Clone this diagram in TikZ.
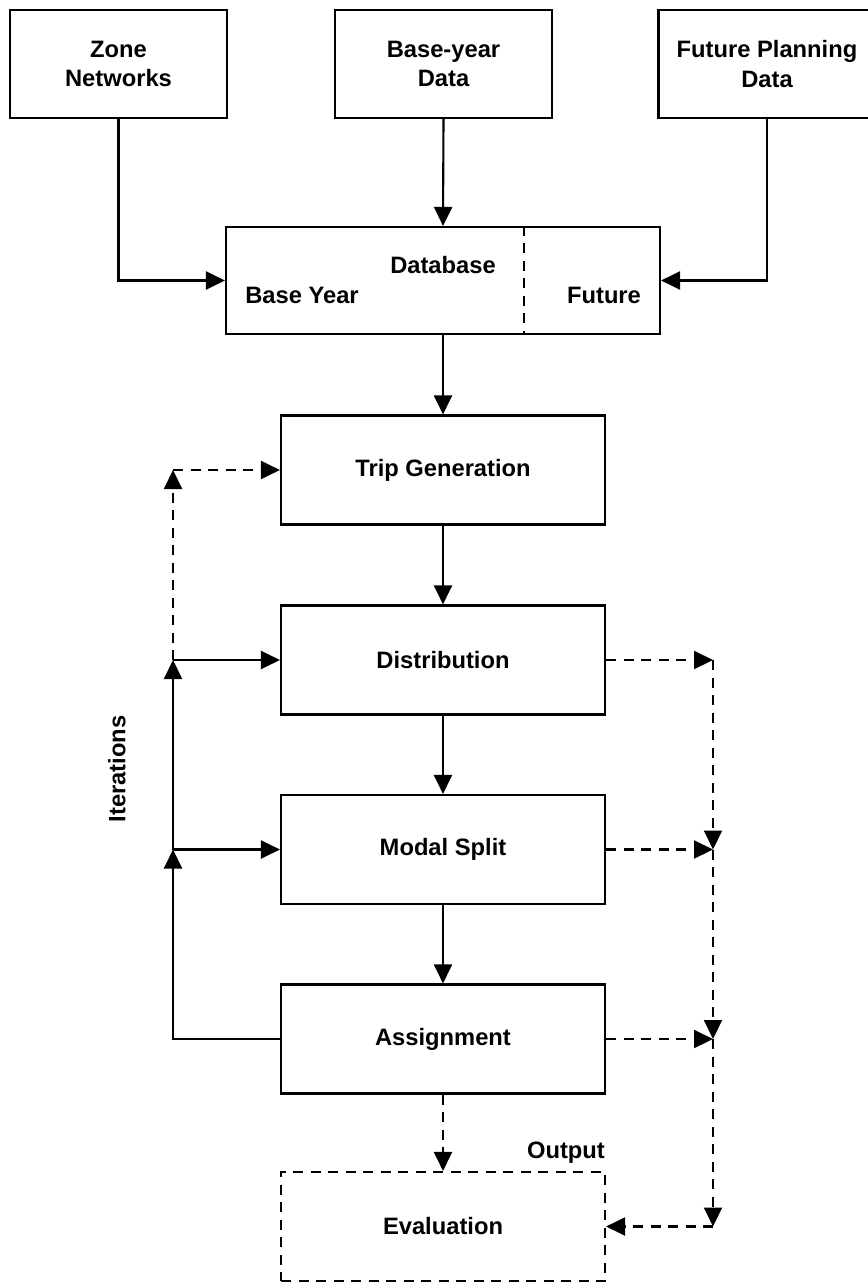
\documentclass[tikz,border=0pt]{standalone}
\usepackage{fontspec}
\setmainfont{Liberation Sans}
\usepackage{tikz}
\usetikzlibrary{arrows.meta, positioning}

\tikzset{
  box/.style={draw, line width=1.2pt, minimum width=6.48cm, minimum height=2.18cm, align=center},
  inbox/.style={draw, line width=1.2pt, minimum width=4.34cm, minimum height=2.16cm, align=center},
  arr/.style={line width=1.2pt, -{Triangle[length=0.38cm,width=0.36cm]}},
  dashline/.style={dash pattern=on 0.2cm off 0.15cm}
}

\begin{document}
\begin{tikzpicture}[font=\fontsize{13.5}{17}\selectfont\bfseries]
\useasboundingbox (0,0) rectangle (17.34,-25.64);

% Input data
\node[inbox] (zone) at (2.37,-1.28) {Zone\\Networks};
\node[inbox] (base) at (8.87,-1.28) {Base-year\\Data};
\node[inbox] (future) at (15.34,-1.28) {Future Planning\\Data};

% Database
\node[draw, line width=1.2pt, minimum width=8.68cm, minimum height=2.14cm] (db) at (8.86,-5.61) {};
\node (dbtitle) at (8.86,-5.30) {Database};
\node (dbbase) at (6.04,-5.90) {Base Year};
\node (dbfuture) at (12.08,-5.90) {Future};
\coordinate (div) at (10.48,0);
\draw[line width=1.2pt, dashline] (div |- db.north) -- (div |- db.south);

% Model stages
\node[box] (trip) at (8.86,-9.40) {Trip Generation};
\node[box] (dist) at (8.86,-13.20) {Distribution};
\node[box] (modal) at (8.86,-16.99) {Modal Split};
\node[box] (assign) at (8.86,-20.78) {Assignment};
\node[box, dashline] (eval) at (8.86,-24.53) {Evaluation};
\node[anchor=base east, xshift=0.1cm, yshift=0.24cm] (out) at (eval.north east) {Output};

\node[rotate=90] (iter) at (2.34,-15.38) {Iterations};

% Loop columns
\coordinate (left) at (3.46,0);
\coordinate (right) at (14.26,0);
\coordinate (lt) at (left |- trip.west);
\coordinate (ld) at (left |- dist.west);
\coordinate (lm) at (left |- modal.west);
\coordinate (rd) at (right |- dist.east);
\coordinate (rm) at (right |- modal.east);
\coordinate (ra) at (right |- assign.east);
\coordinate (re) at (right |- eval.east);

% Main flow
\draw[arr] (zone.south) |- (db.west);
\draw[arr] (base.south) -- (db.north);
\draw[arr] (future.south) |- (db.east);
\draw[arr] (db.south) -- (trip.north);
\draw[arr] (trip.south) -- (dist.north);
\draw[arr] (dist.south) -- (modal.north);
\draw[arr] (modal.south) -- (assign.north);
\draw[arr, dashline] (assign.south) -- (eval.north);

% Iterations
\draw[arr] (assign.west) -| (lm);
\draw[arr] (lm) -- (modal.west);
\draw[arr] (lm) -- (ld);
\draw[arr] (ld) -- (dist.west);
\draw[arr, dashline] (ld) -- (lt);
\draw[arr, dashline] (lt) -- (trip.west);

% To evaluation
\draw[arr, dashline] (dist.east) -- (rd);
\draw[arr, dashline] (modal.east) -- (rm);
\draw[arr, dashline] (assign.east) -- (ra);
\draw[arr, dashline] (rd) -- (rm);
\draw[arr, dashline] (rm) -- (ra);
\draw[arr, dashline] (ra) -- (re);
\draw[arr, dashline] (re) -- (eval.east);
\end{tikzpicture}
\end{document}
